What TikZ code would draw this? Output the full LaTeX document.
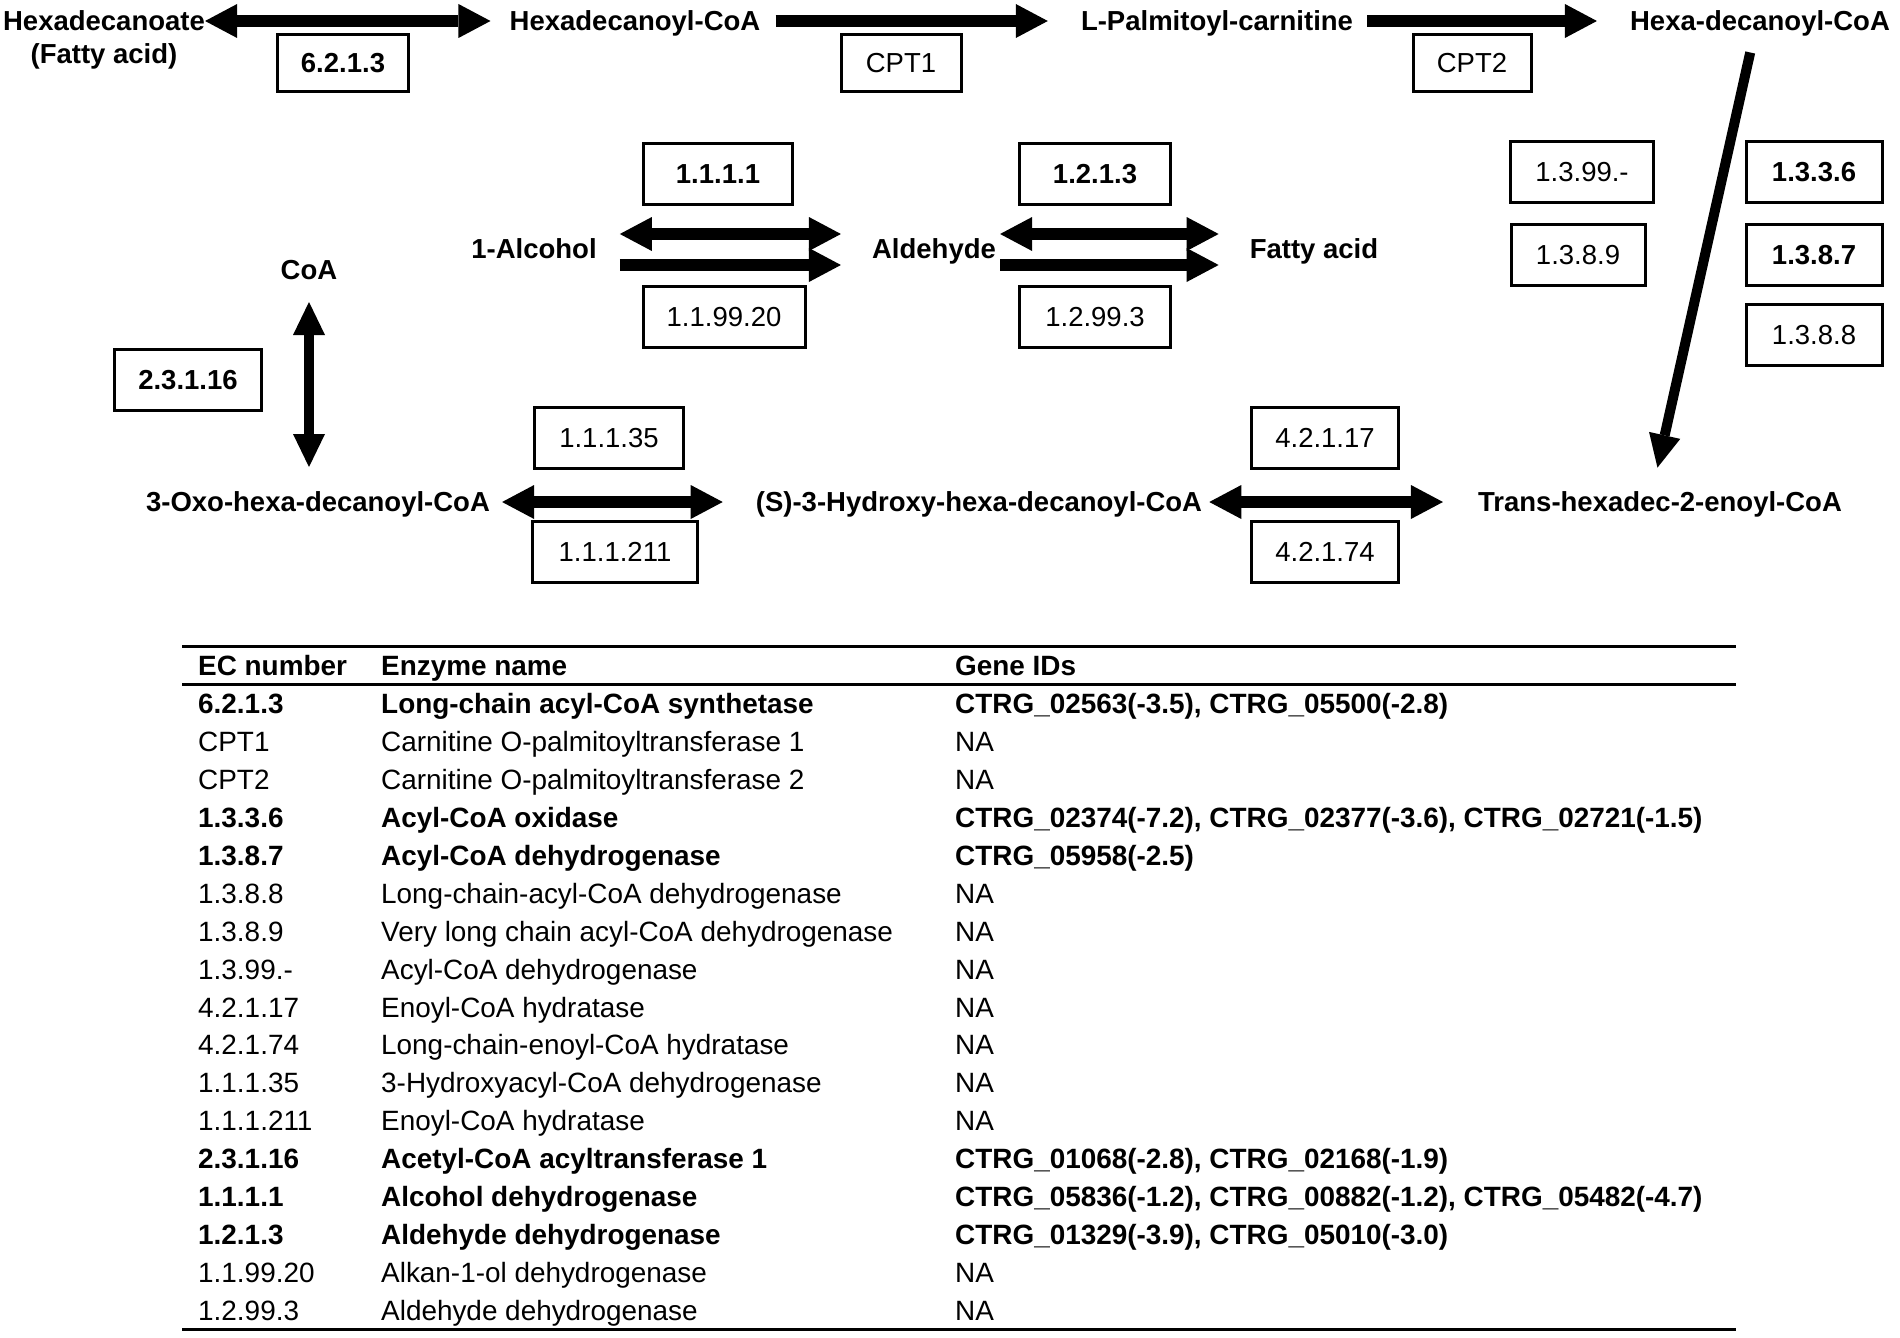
\documentclass[tikz,border=0pt]{standalone}
\usepackage{fontspec}
\setmainfont{Liberation Sans}
\usetikzlibrary{arrows.meta}
\newcommand\labfont{\fontsize{27.5}{33}\selectfont}
\newcommand\tabfont{\fontsize{27.9}{33}\selectfont}
\tikzset{
  met/.style={font=\labfont\bfseries, inner sep=0pt, text height=19.6pt, text depth=0pt},
  ecbox/.style={draw, line width=3pt, minimum height=61pt, inner sep=0pt, font=\labfont},
  ecbold/.style={ecbox, font=\labfont\bfseries},
  fat/.style={line width=12pt, >={Triangle[length=32pt,width=34pt,line width=0pt]}},
  slim/.style={line width=10pt, >={Triangle[length=33pt,width=32pt,line width=0pt]}},
  tab/.style={anchor=west, inner sep=0pt, text height=19.6pt, text depth=0pt},
  tabrule/.style={line width=3pt}
}
\begin{document}
\begin{tikzpicture}[x=1pt,y=-1pt]
        \fill[white] (0,0) rectangle (1900,1338);
        \useasboundingbox (0,0) rectangle (1900,1338);
        \node[font=\labfont\bfseries, align=center, inner sep=0pt, anchor=north] (hexa) at (104,10) {Hexadecanoate\\(Fatty acid)};
        \node[met] (hcoa) at (635,21) {Hexadecanoyl-CoA};
        \node[met] (pcar) at (1217,21) {L-Palmitoyl-carnitine};
        \node[met] (hdc) at (1760,21) {Hexa-decanoyl-CoA};
        \node[met] (alc) at (534,249) {1-Alcohol};
        \node[met] (ald) at (934,249) {Aldehyde};
        \node[met] (fa) at (1314,249) {Fatty acid};
        \node[met] (coa) at (309,270) {CoA};
        \node[met] (oxo) at (318,502) {3-Oxo-hexa-decanoyl-CoA};
        \node[met] (hyd) at (979,502) {(S)-3-Hydroxy-hexa-decanoyl-CoA};
        \node[met] (trans) at (1660,502) {Trans-hexadec-2-enoyl-CoA};
        \node[ecbold,minimum width=131pt,minimum height=56pt] (e6213) at (343,63) {6.2.1.3};
        \node[ecbox,minimum width=120pt,minimum height=56pt] (cpt1) at (901,63) {CPT1};
        \node[ecbox,minimum width=118pt,minimum height=56pt] (cpt2) at (1472,63) {CPT2};
        \node[ecbold,minimum width=149pt] (e1111) at (718,174) {1.1.1.1};
        \node[ecbold,minimum width=151pt] (e1213) at (1095,174) {1.2.1.3};
        \node[ecbox,minimum width=162pt] (e119920) at (724,317) {1.1.99.20};
        \node[ecbox,minimum width=151pt] (e12993) at (1095,317) {1.2.99.3};
        \node[ecbox,minimum width=143pt] (e1399) at (1582,172) {1.3.99.-};
        \node[ecbox,minimum width=134pt] (e1389) at (1578,255) {1.3.8.9};
        \node[ecbold,minimum width=136pt] (e1336) at (1814,172) {1.3.3.6};
        \node[ecbold,minimum width=136pt] (e1387) at (1814,255) {1.3.8.7};
        \node[ecbox,minimum width=136pt] (e1388) at (1814,335) {1.3.8.8};
        \node[ecbold,minimum width=147pt] (e23116) at (188,380) {2.3.1.16};
        \node[ecbox,minimum width=149pt] (e11135) at (609,438) {1.1.1.35};
        \node[ecbox,minimum width=165pt] (e111211) at (615,552) {1.1.1.211};
        \node[ecbox,minimum width=147pt] (e42117) at (1325,438) {4.2.1.17};
        \node[ecbox,minimum width=147pt] (e42174) at (1325,552) {4.2.1.74};
        \draw[fat,<->,shorten >=19pt] (hexa.east |- hcoa.west) -- (hcoa.west);
        \draw[fat,->,shorten <=15pt,shorten >=33pt] (hcoa.east) -- (pcar.west);
        \draw[fat,->,shorten <=14pt,shorten >=33pt] (pcar.east) -- (hdc.west);
        \draw[slim,->,shorten <=22pt,shorten >=25pt] ([xshift=-5pt]hdc.south) -- ([xshift=-8pt]trans.north);
        \draw[fat,<->,shorten <=23pt,shorten >=31pt] ([yshift=15pt]alc.east) -- ([yshift=15pt]ald.west);
        \draw[fat,->,shorten <=23pt,shorten >=31pt] ([yshift=-16pt]alc.east) -- ([yshift=-16pt]ald.west);
        \draw[fat,<->,shorten <=4pt,shorten >=31pt] ([yshift=15pt]ald.east) -- ([yshift=15pt]fa.west);
        \draw[fat,->,shorten <=4pt,shorten >=31pt] ([yshift=-16pt]ald.east) -- ([yshift=-16pt]fa.west);
        \draw[slim,<->,shorten <=22pt,shorten >=25pt] (coa.south) -- (coa.south |- oxo.north);
        \draw[fat,<->,shorten <=12pt,shorten >=33pt] (oxo.east) -- (hyd.west);
        \draw[fat,<->,shorten <=7pt,shorten >=35pt] (hyd.east) -- (trans.west);
        \draw[tabrule] (182,646) -- (1736,646);
        \node[tab,font=\tabfont\bfseries] (hec) at (198,666) {EC number};
        \node[tab,font=\tabfont\bfseries] (hname) at (381,666) {Enzyme name};
        \node[tab,font=\tabfont\bfseries] (hgene) at (955,666) {Gene IDs};
        \draw[tabrule] (182,684) -- (1736,684);
        \foreach \ec/\enz/\gid/\fw [count=\i from 0] in {
          6.2.1.3/Long-chain acyl-CoA synthetase/{CTRG\_02563(-3.5), CTRG\_05500(-2.8)}/\bfseries,
          CPT1/Carnitine O-palmitoyltransferase 1/NA/\mdseries,
          CPT2/Carnitine O-palmitoyltransferase 2/NA/\mdseries,
          1.3.3.6/Acyl-CoA oxidase/{CTRG\_02374(-7.2), CTRG\_02377(-3.6), CTRG\_02721(-1.5)}/\bfseries,
          1.3.8.7/Acyl-CoA dehydrogenase/CTRG\_05958(-2.5)/\bfseries,
          1.3.8.8/Long-chain-acyl-CoA dehydrogenase/NA/\mdseries,
          1.3.8.9/Very long chain acyl-CoA dehydrogenase/NA/\mdseries,
          1.3.99.-/Acyl-CoA dehydrogenase/NA/\mdseries,
          4.2.1.17/Enoyl-CoA hydratase/NA/\mdseries,
          4.2.1.74/Long-chain-enoyl-CoA hydratase/NA/\mdseries,
          1.1.1.35/3-Hydroxyacyl-CoA dehydrogenase/NA/\mdseries,
          1.1.1.211/Enoyl-CoA hydratase/NA/\mdseries,
          2.3.1.16/Acetyl-CoA acyltransferase 1/{CTRG\_01068(-2.8), CTRG\_02168(-1.9)}/\bfseries,
          1.1.1.1/Alcohol dehydrogenase/{CTRG\_05836(-1.2), CTRG\_00882(-1.2), CTRG\_05482(-4.7)}/\bfseries,
          1.2.1.3/Aldehyde dehydrogenase/{CTRG\_01329(-3.9), CTRG\_05010(-3.0)}/\bfseries,
          1.1.99.20/Alkan-1-ol dehydrogenase/NA/\mdseries,
          1.2.99.3/Aldehyde dehydrogenase/NA/\mdseries}{
          \node[tab,font=\tabfont\fw] (ec\i) at (198,{704+37.9*\i}) {\ec};
          \node[tab,font=\tabfont\fw] (enz\i) at (381,{704+37.9*\i}) {\enz};
          \node[tab,font=\tabfont\fw] (gid\i) at (955,{704+37.9*\i}) {\gid};
        }
        \draw[tabrule] (182,1329) -- (1736,1329);
\end{tikzpicture}
\end{document}
